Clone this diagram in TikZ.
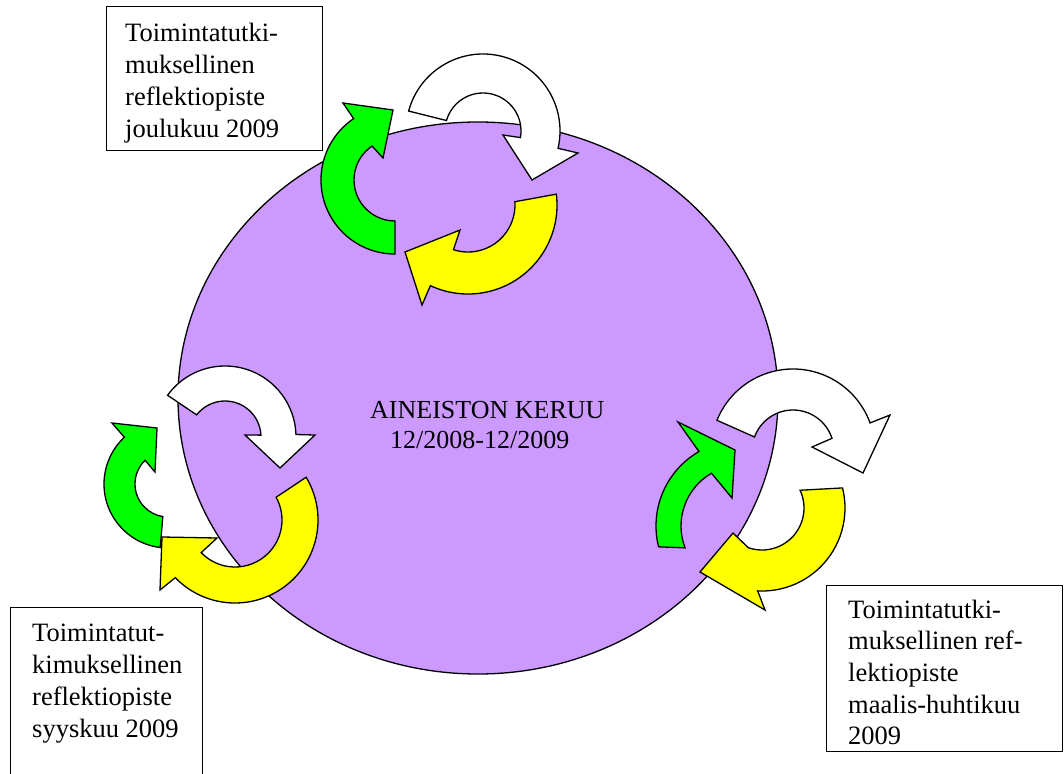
\documentclass[tikz,border=0pt]{standalone}
\usepackage{fontspec}
\setmainfont{Liberation Serif}
\definecolor{lav}{HTML}{CC99FF}
\definecolor{agreen}{HTML}{00FF00}
\definecolor{ayellow}{HTML}{FFFF00}
\begin{document}
\begin{tikzpicture}[x=1pt,y=-1pt,
  arr/.style={draw=black, line width=1.3pt, line join=miter},
  frame/.style={draw=black, fill=white, line width=1.4pt, inner sep=0pt, anchor=north west},
  txt/.style={anchor=base west, inner sep=0pt, font=\fontsize{26.5}{32}\selectfont},
  ctxt/.style={anchor=base west, inner sep=0pt, font=\fontsize{26}{30}\selectfont}]
\clip (0,0) rectangle (1064,773);
\fill[white] (0,0) rectangle (1064,773);
% main ellipse
\filldraw[fill=lav, draw=black, line width=1.3pt] (478,398) ellipse [x radius=300, y radius=276];
% ---------- top cluster ----------
\filldraw[arr, fill=agreen, shift={(395,180)}]
  (90:74) arc[start angle=90, end angle=236, radius=74]
  -- (-52,-77) -- (-2,-70) -- (-12,-22)
  -- (236:41) arc[start angle=236, end angle=90, radius=41] -- cycle;
\filldraw[arr, fill=white, shift={(483,131)}]
  (195:77) arc[start angle=195, end angle=373, radius=77]
  -- (95,22) -- (49,49) -- (20,4)
  -- (370:38) arc[start angle=370, end angle=196, radius=38] -- cycle;
\filldraw[arr, fill=ayellow, shift={(468,205)}]
  (-7:89) arc[start angle=-7, end angle=115, radius=89]
  -- (-46,100) -- (-63,47) -- (-8,25)
  -- (108:47) arc[start angle=108, end angle=-4, radius=47] -- cycle;
% ---------- bottom-left cluster ----------
\filldraw[arr, fill=white, shift={(225,437)}]
  (216:71) arc[start angle=216, end angle=358, radius=71]
  -- (90,-2) -- (55,31) -- (20,-2)
  -- (357:36) arc[start angle=357, end angle=218, radius=36] -- cycle;
\filldraw[arr, fill=agreen, shift={(168,484)}]
  (97:64) arc[start angle=97, end angle=227, radius=64]
  -- (-56,-61) -- (-11,-56) -- (-13,-12)
  -- (226:33) arc[start angle=226, end angle=99, radius=33] -- cycle;
\filldraw[arr, fill=ayellow, shift={(235,520)}]
  (-31:83) arc[start angle=-31, end angle=136, radius=83]
  -- (-75,70) -- (-73,17) -- (-18,18)
  -- (136:47) arc[start angle=136, end angle=-29, radius=47] -- cycle;
% ---------- right cluster ----------
\filldraw[arr, fill=white, shift={(793,451)}]
  (202:82) arc[start angle=202, end angle=340, radius=82]
  -- (97,-36) -- (70,22) -- (19,-4)
  -- (342:41) arc[start angle=342, end angle=200, radius=41] -- cycle;
\filldraw[arr, fill=agreen, shift={(742,526)}]
  (166:86) arc[start angle=166, end angle=240, radius=86]
  -- (-64,-104) -- (-7,-76) -- (-10,-28)
  -- (240:61) arc[start angle=240, end angle=159, radius=61] -- cycle;
\filldraw[arr, fill=ayellow, shift={(762,508)}]
  (-14:83) arc[start angle=-14, end angle=93, radius=83]
  -- (3,102) -- (-62,64) -- (-29,25)
  -- (109:42) arc[start angle=109, end angle=-25, radius=42] -- cycle;
% ---------- boxes ----------
\node[frame, minimum width=216pt, minimum height=144pt] (box1) at (106,6) {};
\node[txt] (t1) at (125,41.7) {\parbox[t]{260pt}{Toimintatutki-\\muksellinen\\reflektiopiste\\joulukuu 2009}};
\node[frame, minimum width=192pt, minimum height=200pt] (box2) at (10,607) {};
\node[txt] (t2) at (32,641.7) {\parbox[t]{260pt}{Toimintatut-\\kimuksellinen\\reflektiopiste\\syyskuu 2009}};
\node[frame, minimum width=236pt, minimum height=166pt] (box3) at (826,585) {};
\node[anchor=base west, inner sep=0pt, font=\fontsize{26.5}{31.7}\selectfont] (t3) at (848,618) {\parbox[t]{260pt}{Toimintatutki-\\muksellinen ref-\\lektiopiste\\maalis-huhtikuu\\2009}};
% centre text
\node[ctxt] (centre) at (370,418) {\parbox[t]{320pt}{AINEISTON KERUU\\\hspace*{20pt}12/2008-12/2009}};
\end{tikzpicture}
\end{document}
